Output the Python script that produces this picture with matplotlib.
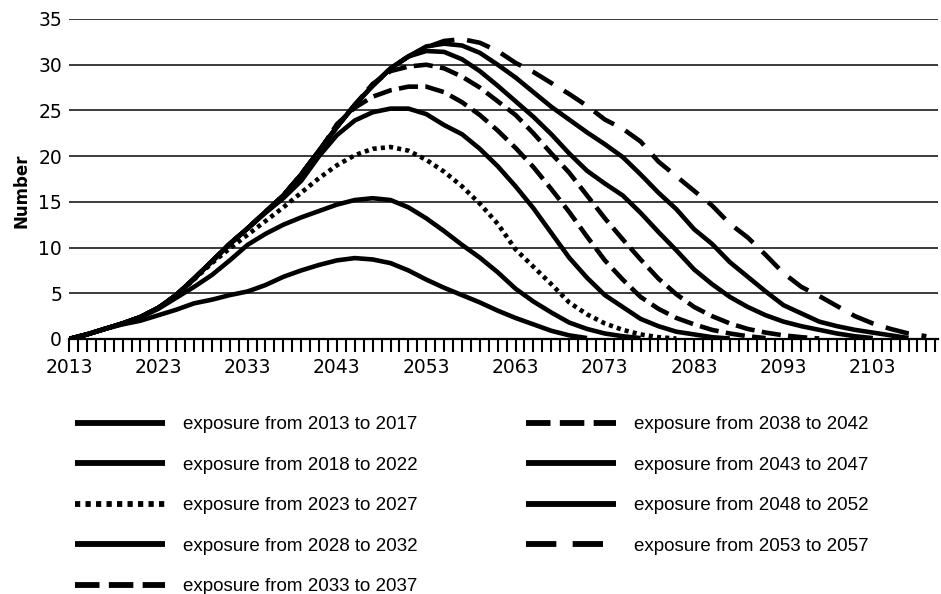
import numpy as np
import matplotlib.pyplot as plt

# values every second year, starting 2013
start_year = 2013
step = 2

exp_2013_2017 = [0, 0.5, 1.1, 1.6, 2.0, 2.6, 3.2, 3.9, 4.3, 4.8, 5.2, 5.9, 6.8, 7.5, 8.1,
                 8.6, 8.85, 8.7, 8.3, 7.5, 6.5, 5.6, 4.8, 4.0, 3.1, 2.3, 1.6, 0.9, 0.4, 0.1]
exp_2018_2022 = [0, 0.5, 1.1, 1.7, 2.4, 3.3, 4.5, 5.7, 7.0, 8.6, 10.3, 11.5, 12.5, 13.3, 14.0,
                 14.7, 15.2, 15.4, 15.2, 14.4, 13.2, 11.8, 10.3, 8.9, 7.3, 5.5, 4.1, 2.9, 1.8,
                 1.1, 0.6, 0.3, 0.1]
exp_2023_2027 = [0, 0.5, 1.1, 1.7, 2.4, 3.4, 4.8, 6.5, 8.3, 9.9, 11.4, 12.9, 14.4, 16.0, 17.6,
                 19.0, 20.1, 20.8, 21.0, 20.6, 19.6, 18.3, 16.7, 14.8, 12.6, 9.8, 7.9, 6.0, 4.0,
                 2.7, 1.7, 1.0, 0.5, 0.2, 0.05]
exp_2028_2032 = [0, 0.5, 1.1, 1.7, 2.4, 3.4, 4.8, 6.6, 8.5, 10.4, 12.1, 13.8, 15.4, 17.3, 20.0,
                 22.3, 23.9, 24.8, 25.2, 25.2, 24.6, 23.4, 22.4, 20.8, 18.9, 16.7, 14.3, 11.6,
                 8.9, 6.7, 4.8, 3.5, 2.2, 1.4, 0.8, 0.5, 0.2, 0.05]
exp_2033_2037 = [0, 0.5, 1.1, 1.7, 2.4, 3.4, 4.8, 6.6, 8.5, 10.4, 12.1, 13.9, 15.7, 18.0, 20.5,
                 23.5, 25.3, 26.5, 27.2, 27.6, 27.6, 27.0, 25.9, 24.5, 22.8, 20.9, 18.8, 16.4,
                 13.9, 11.2, 8.6, 6.5, 4.6, 3.3, 2.3, 1.6, 1.0, 0.6, 0.3, 0.1]
exp_2038_2042 = [0, 0.5, 1.1, 1.7, 2.4, 3.4, 4.8, 6.6, 8.5, 10.4, 12.1, 13.9, 15.7, 18.0, 20.6,
                 23.2, 25.6, 27.9, 29.3, 29.8, 30.0, 29.6, 28.7, 27.5, 26.0, 24.5, 22.5, 20.3,
                 18.2, 15.7, 13.2, 10.9, 8.7, 6.6, 4.9, 3.5, 2.5, 1.7, 1.1, 0.7, 0.4, 0.2, 0.05]
exp_2043_2047 = [0, 0.5, 1.1, 1.7, 2.4, 3.4, 4.8, 6.6, 8.5, 10.4, 12.1, 13.9, 15.7, 18.0, 20.6,
                 23.2, 25.6, 27.7, 29.6, 30.9, 31.5, 31.4, 30.6, 29.3, 27.7, 26.0, 24.3, 22.4,
                 20.3, 18.4, 17.0, 15.7, 13.8, 11.7, 9.7, 7.6, 6.0, 4.6, 3.5, 2.6, 1.9, 1.4,
                 1.0, 0.6, 0.3, 0.1]
exp_2048_2052 = [0, 0.5, 1.1, 1.7, 2.4, 3.4, 4.8, 6.6, 8.5, 10.4, 12.1, 13.9, 15.7, 18.0, 20.6,
                 23.2, 25.6, 27.7, 29.6, 30.9, 32.0, 32.3, 32.1, 31.3, 30.0, 28.6, 27.0, 25.4,
                 24.0, 22.6, 21.3, 19.9, 18.0, 16.0, 14.2, 12.0, 10.4, 8.4, 6.8, 5.2, 3.7, 2.8,
                 1.9, 1.4, 1.0, 0.7, 0.4, 0.1]
exp_2053_2057 = [0, 0.5, 1.1, 1.7, 2.4, 3.4, 4.8, 6.6, 8.5, 10.4, 12.1, 13.9, 15.7, 18.0, 20.6,
                 23.2, 25.6, 27.7, 29.6, 30.9, 31.9, 32.6, 32.8, 32.4, 31.5, 30.2, 29.2, 28.0,
                 26.8, 25.5, 24.0, 23.0, 21.6, 19.4, 17.8, 16.2, 14.6, 12.6, 11.1, 9.2, 7.2, 5.7,
                 4.7, 3.6, 2.5, 1.7, 1.1, 0.6, 0.3]

labels = ['exposure from 2013 to 2017', 'exposure from 2018 to 2022',
          'exposure from 2023 to 2027', 'exposure from 2028 to 2032',
          'exposure from 2033 to 2037', 'exposure from 2038 to 2042',
          'exposure from 2043 to 2047', 'exposure from 2048 to 2052',
          'exposure from 2053 to 2057']
series = [exp_2013_2017, exp_2018_2022, exp_2023_2027, exp_2028_2032, exp_2033_2037,
          exp_2038_2042, exp_2043_2047, exp_2048_2052, exp_2053_2057]

dot = (0, (0.9, 0.9))
dash = (0, (4.2, 1.6))
longdash = (0, (5.2, 2.8))
styles = ['-', '-', dot, '-', dash, dash, '-', '-', longdash]

fig = plt.figure(figsize=(9.41, 5.94), dpi=100)
ax = fig.add_axes([69 / 941, 1 - 339 / 594, 869 / 941, 320 / 594])

for vals, lab, ls in zip(series, labels, styles):
    yrs = start_year + step * np.arange(len(vals))
    ax.plot(yrs, vals, color='black', lw=3.3, ls=ls, label=lab,
            solid_joinstyle='round', solid_capstyle='butt')

ax.set_xlim(2013, 2110.3)
ax.set_ylim(0, 35)
ax.set_yticks(np.arange(0, 36, 5))
ax.set_xticks(np.arange(2013, 2104, 10))
ax.set_xticks(np.arange(2013, 2111, 1), minor=True)
ax.yaxis.grid(True, color='#1a1a1a', lw=1.2)
ax.set_axisbelow(True)

for s in ['top', 'right', 'left']:
    ax.spines[s].set_visible(False)
ax.spines['bottom'].set_linewidth(1.6)

ax.tick_params(axis='x', which='both', direction='out', length=9.5, width=1.5,
               pad=4, labelsize=13.5)
ax.tick_params(axis='y', length=0, pad=5, labelsize=13.5)

fig.text(22 / 941, 1 - 191 / 594, 'Number', rotation=90, ha='center', va='center',
         fontweight='bold', fontsize=12)

leg = fig.legend(loc='upper left', bbox_to_anchor=(75 / 941, 1 - 416 / 594), ncol=2,
                 frameon=False, borderpad=0, borderaxespad=0, handlelength=4.8,
                 handletextpad=0.95, labelspacing=1.25, columnspacing=5.8,
                 prop={'family': 'Liberation Sans', 'size': 13.5})
for h in leg.get_lines():
    h.set_linewidth(4.2)

fig.savefig('out.png', dpi=100)
